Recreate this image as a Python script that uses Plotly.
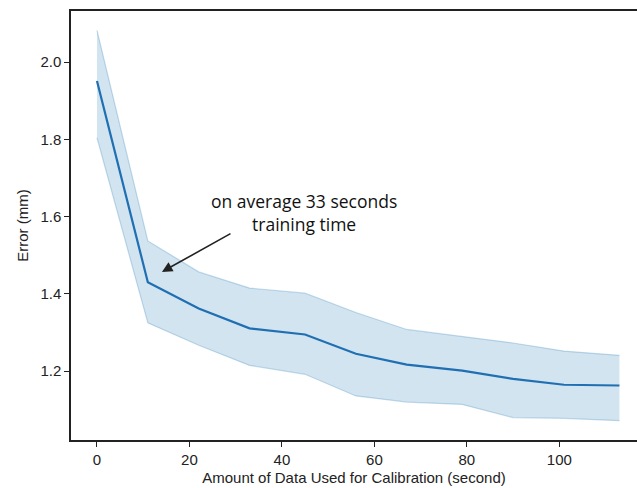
import plotly.graph_objects as go

seconds = [0, 11, 22, 33, 45, 56, 67, 79, 90, 101, 113]
mean_error = [1.951, 1.430, 1.362, 1.311, 1.295, 1.245, 1.217, 1.2015, 1.180, 1.165, 1.163]
upper_error = [2.082, 1.537, 1.457, 1.415, 1.402, 1.352, 1.308, 1.290, 1.273, 1.252, 1.241]
lower_error = [1.804, 1.325, 1.267, 1.215, 1.192, 1.136, 1.120, 1.114, 1.080, 1.078, 1.072]
x_ticks = [0, 20, 40, 60, 80, 100]
y_ticks = [1.2, 1.4, 1.6, 1.8, 2.0]

band_edge = "rgba(31,119,180,0.25)"
fig = go.Figure()
fig.add_trace(go.Scatter(x=seconds, y=upper_error, mode="lines",
                         line=dict(color=band_edge, width=1.2), showlegend=False, hoverinfo="skip"))
fig.add_trace(go.Scatter(x=seconds, y=lower_error, mode="lines", fill="tonexty",
                         fillcolor="rgba(31,119,180,0.2)",
                         line=dict(color=band_edge, width=1.2), showlegend=False, hoverinfo="skip"))
fig.add_trace(go.Scatter(x=seconds, y=mean_error, mode="lines",
                         line=dict(color="#1f6fb2", width=2.2), showlegend=False))

fig.add_annotation(x=44.8, y=1.610, xref="x", yref="y", showarrow=False,
                   text="on average 33 seconds<br>training time",
                   font=dict(family="Open Sans, Noto Sans, sans-serif", size=17.5, color="#111"),
                   align="center")
fig.add_annotation(x=14.05, y=1.457, ax=29.2, ay=1.558, xref="x", yref="y",
                   axref="x", ayref="y", text="", showarrow=True,
                   arrowhead=2, arrowsize=1.3, arrowwidth=1.6, arrowcolor="#222")

axis_font = dict(family="Liberation Sans, Arial, sans-serif", size=15, color="#222")
fig.update_layout(
    width=637, height=488, autosize=False,
    margin=dict(l=71, r=0, t=11, b=48),
    plot_bgcolor="white", paper_bgcolor="white",
    font=axis_font,
    xaxis=dict(range=[-5.62, 116.8], tickvals=x_ticks, showgrid=False, zeroline=False,
               showline=True, linecolor="#222", linewidth=1.5, mirror=True,
               ticks="outside", ticklen=5, tickwidth=1.3, tickcolor="#222",
               tickfont=axis_font,
               title=dict(text="Amount of Data Used for Calibration (second)", font=axis_font, standoff=6)),
    yaxis=dict(range=[1.022, 2.132], tickvals=y_ticks, tickformat=".1f", showgrid=False, zeroline=False,
               showline=True, linecolor="#222", linewidth=1.5, mirror=False,
               ticks="outside", ticklen=5, tickwidth=1.3, tickcolor="#222",
               tickfont=axis_font,
               title=dict(text="Error (mm)", font=axis_font, standoff=8)),
)
fig.write_html("out.html", config={"displayModeBar": False},
               post_script="document.body.style.margin='0';")
